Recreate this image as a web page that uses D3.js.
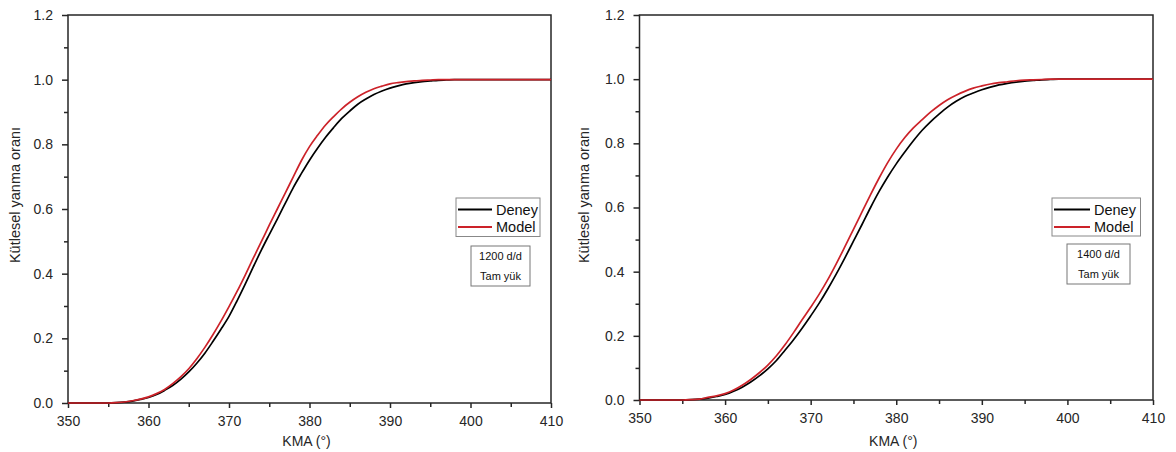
<!DOCTYPE html>
<html><head><meta charset="utf-8">
<script src="https://cdn.jsdelivr.net/npm/d3@7"></script>
<style>
html,body{margin:0;padding:0;background:#fff;}
svg{display:block;font-family:"Liberation Sans",Arial,sans-serif;}
</style></head>
<body><svg id="chart" width="1176" height="452"></svg>
<script>
// ---- data ----
const angles = [350,355,356,357,358,359,360,361,362,363,364,365,366,367,368,369,370,371,372,373,374,375,376,377,378,379,380,381,382,383,384,385,386,387,388,389,390,391,392,393,394,395,396,397,398,399,400,410];
const deney1200 = [0,0,0.001,0.003,0.006,0.011,0.017,0.026,0.039,0.054,0.073,0.096,0.123,0.154,0.19,0.228,0.268,0.316,0.367,0.42,0.472,0.521,0.569,0.618,0.667,0.71,0.751,0.788,0.822,0.852,0.88,0.903,0.924,0.94,0.954,0.965,0.974,0.981,0.987,0.991,0.994,0.996,0.998,0.999,1,1,1,1];
const model1200 = [0,0,0.001,0.003,0.007,0.012,0.019,0.029,0.042,0.06,0.081,0.106,0.137,0.172,0.211,0.253,0.298,0.345,0.395,0.447,0.498,0.55,0.6,0.65,0.7,0.75,0.793,0.828,0.86,0.886,0.91,0.93,0.947,0.961,0.972,0.98,0.987,0.991,0.994,0.996,0.998,0.999,1,1,1,1,1,1];
const deney1400 = [0,0,0.001,0.003,0.006,0.011,0.017,0.027,0.04,0.056,0.075,0.097,0.123,0.155,0.188,0.224,0.262,0.302,0.346,0.393,0.443,0.495,0.547,0.6,0.65,0.695,0.736,0.773,0.808,0.84,0.867,0.891,0.913,0.931,0.946,0.957,0.967,0.975,0.982,0.987,0.991,0.994,0.996,0.998,0.999,1,1,1];
const model1400 = [0,0,0.001,0.003,0.008,0.013,0.02,0.031,0.046,0.064,0.085,0.109,0.138,0.172,0.21,0.25,0.289,0.33,0.375,0.425,0.478,0.532,0.586,0.64,0.692,0.74,0.782,0.818,0.848,0.873,0.897,0.918,0.936,0.95,0.962,0.972,0.979,0.985,0.989,0.992,0.995,0.997,0.998,0.999,1,1,1,1];
const xTicks = [350,360,370,380,390,400,410];
const yTicks = [0.0,0.2,0.4,0.6,0.8,1.0,1.2];
const seriesNames = ["Deney","Model"];
const seriesColors = ["#000000","#cc2229"];
const xTitle = "KMA (°)";
const yTitle = "Kütlesel yanma oranı";
const noteLines1200 = ["1200 d/d","Tam yük"];
const noteLines1400 = ["1400 d/d","Tam yük"];

const svg = d3.select("#chart");
const axisColor = "#262626";
const textColor = "#262626";

function panel(cfg){
  const g = svg.append("g");
  const x = d3.scaleLinear().domain([350,410]).range([cfg.left, cfg.right]);
  const y = d3.scaleLinear().domain([0,1.2]).range([cfg.bottom, cfg.top]);

  // frame
  g.append("rect").attr("x",cfg.left).attr("y",cfg.top)
    .attr("width",cfg.right-cfg.left).attr("height",cfg.bottom-cfg.top)
    .attr("fill","none").attr("stroke",axisColor).attr("stroke-width",1.5);

  // x axis
  const xa = g.append("g").attr("transform",`translate(0,${cfg.bottom})`)
    .call(d3.axisBottom(x).tickValues(xTicks).tickSize(5).tickPadding(8).tickFormat(d3.format("d")));
  xa.select(".domain").remove();
  xa.selectAll("line").attr("stroke",axisColor).attr("stroke-width",1.5);
  xa.selectAll("text").attr("fill",textColor).style("font-size","14px").style("font-family","Liberation Sans, Arial, sans-serif");
  const xm = g.append("g").attr("transform",`translate(0,${cfg.bottom})`)
    .call(d3.axisBottom(x).tickValues(d3.range(355,410,10)).tickSize(4).tickFormat(""));
  xm.select(".domain").remove();
  xm.selectAll("line").attr("stroke",axisColor).attr("stroke-width",1.5);

  // y axis
  const ya = g.append("g").attr("transform",`translate(${cfg.left},0)`)
    .call(d3.axisLeft(y).tickValues(yTicks).tickSize(6).tickPadding(cfg.ypad).tickFormat(d3.format(".1f")));
  ya.select(".domain").remove();
  ya.selectAll("line").attr("stroke",axisColor).attr("stroke-width",1.5);
  ya.selectAll("text").attr("fill",textColor).style("font-size","14px").style("font-family","Liberation Sans, Arial, sans-serif");
  const ym = g.append("g").attr("transform",`translate(${cfg.left},0)`)
    .call(d3.axisLeft(y).tickValues([0.1,0.3,0.5,0.7,0.9,1.1]).tickSize(4).tickFormat(""));
  ym.select(".domain").remove();
  ym.selectAll("line").attr("stroke",axisColor).attr("stroke-width",1.5);

  // titles
  g.append("text").attr("x",(cfg.left+cfg.right)/2 - 3).attr("y",446)
    .attr("text-anchor","middle").attr("fill",textColor).style("font-size","14px").text(xTitle);
  g.append("text").attr("transform",`translate(${cfg.ytx},195) rotate(-90)`)
    .attr("text-anchor","middle").attr("dy","0.35em").attr("fill",textColor).style("font-size","14.5px").text(yTitle);

  // lines
  const line = d3.line().x((d,i)=>x(angles[i])).y(d=>y(d)).curve(d3.curveMonotoneX);
  [cfg.deney, cfg.model].forEach((vals,k)=>{
    g.append("path").datum(vals).attr("d",line).attr("fill","none")
      .attr("stroke",seriesColors[k]).attr("stroke-width",1.7);
  });

  // legend
  const L = cfg.leg;
  g.append("rect").attr("x",L.x).attr("y",L.y).attr("width",L.w).attr("height",L.h)
    .attr("fill","#fff").attr("stroke","#888").attr("stroke-width",1);
  seriesNames.forEach((n,k)=>{
    const yy = L.y + 11.5 + k*17.5;
    g.append("line").attr("x1",L.x+2).attr("x2",L.x+2+L.lw).attr("y1",yy).attr("y2",yy)
      .attr("stroke",seriesColors[k]).attr("stroke-width",2);
    g.append("text").attr("x",L.x+L.lw+6).attr("y",yy).attr("dy","0.35em")
      .attr("fill","#111").style("font-size","14.5px").text(n);
  });
  const N = cfg.note;
  g.append("rect").attr("x",N.x).attr("y",N.y).attr("width",N.w).attr("height",N.h)
    .attr("fill","#fff").attr("stroke","#777").attr("stroke-width",1);
  cfg.noteLines.forEach((t,k)=>{
    g.append("text").attr("x",N.x+N.w/2).attr("y",N.y+10+k*20).attr("dy","0.35em")
      .attr("text-anchor","middle").attr("fill","#111").style("font-size","11px").text(t);
  });
}

panel({left:68,right:551,top:15,bottom:403,ytx:15,ypad:9,
  deney:deney1200, model:model1200, noteLines:noteLines1200,
  leg:{x:456,y:198,w:84,h:38.5,lw:34}, note:{x:471,y:246,w:59,h:40}});
panel({left:639.5,right:1153,top:15,bottom:400,ytx:584,ypad:9,
  deney:deney1400, model:model1400, noteLines:noteLines1400,
  leg:{x:1052,y:198,w:88.5,h:38,lw:36}, note:{x:1067,y:244,w:63,h:40}});
</script></body></html>
